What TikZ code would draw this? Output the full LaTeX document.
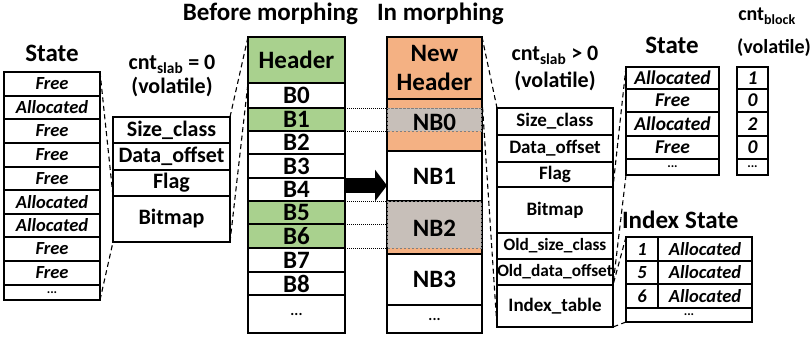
\documentclass[tikz,border=0pt]{standalone}
\usepackage{fontspec}
\setmainfont{Carlito}
\usetikzlibrary{arrows.meta}

\definecolor{hdrgreen}{HTML}{A9D18E}
\definecolor{hdrorange}{HTML}{F4B183}
\definecolor{movedgrey}{HTML}{C7BFB9}
\definecolor{moveedge}{HTML}{7F7F7F}

\begin{document}
\begin{tikzpicture}[x=1pt,y=-1pt,
  every node/.style={inner sep=0pt, outer sep=0pt},
  cell/.style={draw, line width=1.5pt, anchor=north west},
  ttl/.style={font=\bfseries\fontsize{25}{28}\selectfont, anchor=base},
  sub/.style={font=\bfseries\fontsize{22}{24}\selectfont, anchor=base},
  stl/.style={font=\bfseries\itshape\fontsize{18.5}{20}\selectfont},
  rstl/.style={font=\bfseries\itshape\fontsize{19.5}{21}\selectfont},
  hdl/.style={font=\bfseries\fontsize{22}{24}\selectfont},
  blk/.style={font=\bfseries\fontsize{25}{28}\selectfont},
  hdr/.style={font=\bfseries\fontsize{19}{21}\selectfont},
  hdrs/.style={font=\bfseries\fontsize{17.3}{19}\selectfont},
  dots/.style={font=\bfseries\fontsize{15}{16}\selectfont},
  thindots/.style={font=\bfseries\fontsize{13}{13}\selectfont},
  link/.style={line width=1.1pt, dash pattern=on 5pt off 3.5pt},
  guide/.style={line width=1pt, dash pattern=on 1pt off 1pt},
]
\useasboundingbox (0,0) rectangle (811,337);

% ---------- slot state table (left) ----------
\node[ttl] (lsTitle) at (52,62) {State};
\foreach \t/\b/\lab/\nm in {72/96/Free/ls1, 96/119/Allocated/ls2, 119/143/Free/ls3,
    143/167/Free/ls4, 167/190/Free/ls5, 190/214/Allocated/ls6, 214/237/Allocated/ls7,
    237/261/Free/ls8, 261/285/Free/ls9} {
  \pgfmathsetmacro\hh{\b-\t}
  \node[cell, stl, minimum width=96pt, minimum height=\hh pt] (\nm) at (4,\t) {\lab};
}
\node[cell, thindots, minimum width=96pt, minimum height=15pt] (ls10) at (4,285) {...};

% ---------- slab header before morphing ----------
\node[sub] (cs0) at (172,70) {cnt\textsubscript{slab} = 0};
\node[sub] (vol0) at (172,93) {(volatile)};
\foreach \t/\b/\lab/\nm in {117/143/Size\_class/hb1, 143/170/Data\_offset/hb2,
    170/196/Flag/hb3, 196/242/Bitmap/hb4} {
  \pgfmathsetmacro\hh{\b-\t}
  \node[cell, hdl, minimum width=117pt, minimum height=\hh pt] (\nm) at (113,\t) {\lab};
}

% ---------- slab before morphing ----------
\node[ttl, anchor=base east] (tBefore) at (358,21) {Before morphing};
\node[cell, blk, fill=hdrgreen, minimum width=97pt, minimum height=46pt] (bh) at (248,37) {Header};
\foreach \t/\b/\lab/\f/\nm in {83/108/B0/white/bb0, 108/131/B1/hdrgreen/bb1,
    131/154/B2/white/bb2, 154/178/B3/white/bb3, 178/201/B4/white/bb4,
    201/224/B5/hdrgreen/bb5, 224/248/B6/hdrgreen/bb6, 248/272/B7/white/bb7,
    272/295/B8/white/bb8} {
  \pgfmathsetmacro\hh{\b-\t}
  \node[cell, blk, fill=\f, minimum width=97pt, minimum height=\hh pt] (\nm) at (248,\t) {\lab};
}
\node[cell, dots, minimum width=97pt, minimum height=38pt] (bdots) at (248,295) {...};

% ---------- slab in morphing ----------
\node[ttl, anchor=base west] (tIn) at (377,21) {In morphing};
\node[cell, fill=hdrorange, minimum width=95pt, minimum height=62pt, align=center,
  font=\bfseries\fontsize{25}{29}\selectfont] (nh) at (387,37) {New\\Header};
\node[cell, fill=hdrorange, minimum width=95pt, minimum height=52pt] (nb0box) at (387,99) {};
\node[cell, blk, minimum width=95pt, minimum height=50pt] (nb1) at (387,151) {NB1};
\node[cell, fill=hdrorange, minimum width=95pt, minimum height=53pt] (nb2box) at (387,201) {};
\node[cell, blk, minimum width=95pt, minimum height=51pt] (nb3) at (387,254) {NB3};
\node[cell, dots, minimum width=95pt, minimum height=28pt] (ndots) at (387,305) {...};

% relocated blocks inside the new slab
\node[anchor=north west, fill=movedgrey, draw=moveedge, line width=0.7pt, dash pattern=on 2.5pt off 1.5pt,
  minimum width=93.5pt, minimum height=23pt] (nb0area) at (387.75,108) {};
\node[anchor=north west, fill=movedgrey, draw=moveedge, line width=0.7pt, dash pattern=on 2.5pt off 1.5pt,
  minimum width=93.5pt, minimum height=46.5pt] (nb2area) at (387.75,201.5) {};
\node[blk] (nb0) at (434.5,122) {NB0};
\node[blk] (nb2) at (434.5,228) {NB2};

% block correspondence
\draw[guide] (bb1.north east) -- (bb1.north east -| nb0box.west);
\draw[guide] (bb1.south east) -- (bb1.south east -| nb0box.west);
\draw[guide] (bb5.north east) -- (bb5.north east -| nb2box.west);
\draw[guide] (bb6.north east) -- (bb6.north east -| nb2box.west);
\draw[guide] (bb6.south east) -- (bb6.south east -| nb2box.west);

% morphing arrow
\coordinate (arrowfrom) at (345,185.5);
\draw[line width=15pt, -{Triangle[length=12pt, width=31pt]}] (arrowfrom) -- (arrowfrom -| nb1.west);

% ---------- slab header in morphing ----------
\node[sub] (cs1) at (555,61) {cnt\textsubscript{slab} > 0};
\node[sub] (vol1) at (555,87) {(volatile)};
\foreach \t/\b/\lab/\nm in {108/135/Size\_class/rt1, 135/162/Data\_offset/rt2,
    162/187/Flag/rt3, 187/233/Bitmap/rt4} {
  \pgfmathsetmacro\hh{\b-\t}
  \node[cell, hdr, minimum width=116pt, minimum height=\hh pt] (\nm) at (497,\t) {\lab};
}
\foreach \t/\b/\lab/\nm in {233/259/Old\_size\_class/rt5, 259/285/Old\_data\_offset/rt6} {
  \pgfmathsetmacro\hh{\b-\t}
  \node[cell, hdrs, minimum width=116pt, minimum height=\hh pt] (\nm) at (497,\t) {\lab};
}
\node[cell, hdr, minimum width=116pt, minimum height=42pt] (rt7) at (497,285) {Index\_table};

% ---------- state and counters (right) ----------
\node[ttl] (rsTitle) at (672,53) {State};
\node[sub, font=\bfseries\fontsize{20}{22}\selectfont] (cbTitle) at (767,21) {cnt\textsubscript{block}};
\node[sub, font=\bfseries\fontsize{20}{22}\selectfont] (vol2) at (774,53) {(volatile)};
\foreach \t/\b/\lab/\cnt/\nm in {67/89/Allocated/1/1, 89/112/Free/0/2,
    112/136/Allocated/2/3, 136/159/Free/0/4} {
  \pgfmathsetmacro\hh{\b-\t}
  \node[cell, rstl, minimum width=93pt, minimum height=\hh pt] (rs\nm) at (626,\t) {\lab};
  \node[cell, rstl, minimum width=31pt, minimum height=\hh pt] (cb\nm) at (737,\t) {\cnt};
}
\node[cell, thindots, minimum width=93pt, minimum height=16pt] (rs5) at (626,159) {...};
\node[cell, thindots, minimum width=31pt, minimum height=16pt] (cb5) at (737,159) {...};

% ---------- index table ----------
\node[ttl, anchor=base west] (ixTitle) at (622,228) {Index\hspace{6pt}State};
\foreach \t/\b/\idx/\nm in {237/261/1/1, 261/284/5/2, 284/308/6/3} {
  \pgfmathsetmacro\hh{\b-\t}
  \node[cell, stl, minimum width=32pt, minimum height=\hh pt] (ix\nm) at (626,\t) {\idx};
  \node[cell, stl, minimum width=94pt, minimum height=\hh pt] (is\nm) at (658,\t) {Allocated};
}
\node[cell, thindots, minimum width=126pt, minimum height=14pt] (ix4) at (626,308) {...};

% ---------- zoom-in guides ----------
\draw[link] (ls1.north east) -- (hb4.north west);
\draw[link] (ls10.south east) -- (hb4.south west);
\draw[link] (hb1.north east) -- (bh.north west);
\draw[link] (hb4.south east) -- (bh.south west);
\draw[link] (nh.north east) -- (rt1.north west);
\draw[link] (nh.south east) -- (rt7.south west);
\draw[link] (rs1.north west) -- (rt4.north east);
\draw[link] (rs5.south west) -- (rt7.north east);
\draw[link] (ix1.north west) -- (rt7.north east);
\draw[link] (ix4.south west) -- (rt7.south east);
\end{tikzpicture}
\end{document}
